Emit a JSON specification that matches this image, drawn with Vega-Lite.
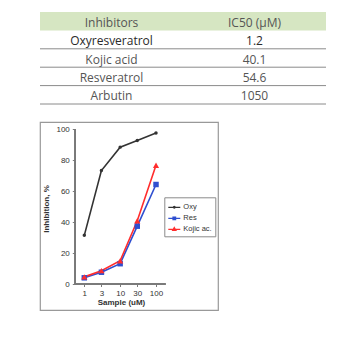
{
  "$schema": "https://vega.github.io/schema/vega-lite/v6.json",
  "padding": {"left": 39, "top": 12, "right": 0, "bottom": 0},
  "background": "white",
  "spacing": 16,
  "config": {"font": "Liberation Sans"},
  "vconcat": [
    {
      "width": 286,
      "height": 92,
      "view": {"stroke": null},
      "data": {"values": [
        {"name": "Inhibitors", "ic50": "IC50 (μM)"},
        {"name": "Oxyresveratrol", "ic50": "1.2"},
        {"name": "Kojic acid", "ic50": "40.1"},
        {"name": "Resveratrol", "ic50": "54.6"},
        {"name": "Arbutin", "ic50": "1050"}
      ]},
      "encoding": {
        "y": {"field": "name", "type": "nominal", "sort": null, "axis": null,
              "scale": {"paddingInner": 0, "paddingOuter": 0}}
      },
      "layer": [
        {
          "transform": [{"filter": "datum.name === 'Inhibitors'"}],
          "mark": {"type": "rect", "color": "#d6e6c2"}
        },
        {
          "transform": [{"filter": "datum.name !== 'Inhibitors'"}],
          "mark": {"type": "rule", "color": "#8a8a8a", "strokeWidth": 1},
          "encoding": {"y": {"field": "name", "type": "nominal", "sort": null, "bandPosition": 1}}
        },
        {
          "mark": {"type": "text", "font": "Open Sans", "fontSize": 12, "dy": 1.5},
          "encoding": {
            "x": {"datum": 0.5, "type": "quantitative", "scale": {"domain": [0, 2]}, "axis": null},
            "text": {"field": "name"},
            "color": {"condition": {"test": "datum.name === 'Oxyresveratrol'", "value": "#2a2a2a"}, "value": "#555555"},
            "fontWeight": {"condition": {"test": "datum.name === 'Oxyresveratrol'", "value": 600}, "value": 400}
          }
        },
        {
          "mark": {"type": "text", "font": "Open Sans", "fontSize": 12, "dy": 1.5},
          "encoding": {
            "x": {"datum": 1.5, "type": "quantitative", "scale": {"domain": [0, 2]}, "axis": null},
            "text": {"field": "ic50"},
            "color": {"condition": {"test": "datum.name === 'Oxyresveratrol'", "value": "#2a2a2a"}, "value": "#555555"},
            "fontWeight": {"condition": {"test": "datum.name === 'Oxyresveratrol'", "value": 600}, "value": 400}
          }
        }
      ]
    },
    {
      "width": 178,
      "height": 188,
      "view": {"stroke": "#999999", "strokeWidth": 1.2},
      "data": {"values": [
        {"series": "Oxy", "dose": 1, "inhibition": 31.4},
        {"series": "Oxy", "dose": 3, "inhibition": 73.2},
        {"series": "Oxy", "dose": 10, "inhibition": 88.3},
        {"series": "Oxy", "dose": 30, "inhibition": 92.6},
        {"series": "Oxy", "dose": 100, "inhibition": 97.4},
        {"series": "Res", "dose": 1, "inhibition": 4.0},
        {"series": "Res", "dose": 3, "inhibition": 7.6},
        {"series": "Res", "dose": 10, "inhibition": 13.1},
        {"series": "Res", "dose": 30, "inhibition": 37.3},
        {"series": "Res", "dose": 100, "inhibition": 64.2},
        {"series": "Kojic ac.", "dose": 1, "inhibition": 4.6},
        {"series": "Kojic ac.", "dose": 3, "inhibition": 8.6},
        {"series": "Kojic ac.", "dose": 10, "inhibition": 15.0},
        {"series": "Kojic ac.", "dose": 30, "inhibition": 40.8},
        {"series": "Kojic ac.", "dose": 100, "inhibition": 76.6}
      ]},
      "layer": [
        {
          "mark": {"type": "line", "strokeWidth": 1.6},
          "encoding": {
            "x": {"field": "dose", "type": "quantitative",
                  "scale": {"type": "log", "domain": [0.0581, 5360], "nice": false},
                  "axis": {"orient": "bottom", "offset": -26.5, "values": [1, 3, 10, 30, 100], "format": "d",
                           "domain": false, "grid": false, "ticks": true, "tickSize": 3, "tickColor": "#7a7a7a",
                           "labelFontSize": 8, "labelColor": "#333333", "labelPadding": 3, "labelFlush": false, "labelOverlap": false,
                           "title": "Sample (uM)", "titleFontSize": 8, "titleFontWeight": "bold", "titleColor": "#333333",
                           "titleX": 81, "titlePadding": 1}},
            "y": {"field": "inhibition", "type": "quantitative",
                  "scale": {"domain": [-16.77, 104.52], "nice": false, "zero": false},
                  "axis": {"orient": "left", "offset": -35.3, "values": [0, 20, 40, 60, 80, 100], "tickCount": 6,
                           "format": "d",
                           "domain": false, "grid": false, "ticks": true, "tickSize": 3, "tickColor": "#7a7a7a",
                           "labelFontSize": 8, "labelColor": "#333333", "labelPadding": 3, "labelFlush": false, "labelOverlap": false,
                           "labelBound": false,
                           "title": "Inhibition, %", "titleFontSize": 8, "titleFontWeight": "bold", "titleColor": "#333333",
                           "titleY": 86.5, "titlePadding": 5}},
            "color": {"field": "series", "type": "nominal",
                      "scale": {"domain": ["Oxy", "Res", "Kojic ac."], "range": ["#333333", "#2f4fd0", "#ff2d2d"]},
                      "legend": {"orient": "none", "legendX": 124.3, "legendY": 185.3, "title": null,
                                 "strokeColor": "#8a8a8a", "fillColor": "white", "padding": 3,
                                 "labelFontSize": 7.5, "labelColor": "#333333", "labelOffset": 2,
                                 "symbolSize": 144, "rowPadding": 0, "symbolStrokeWidth": 1.2,
                                 "encode": {"symbols": {"update": {
                                   "shape": {"signal": "datum.value === 'Oxy' ? 'M-1,0H1M0.15,0A0.15,0.15 0 1,1 -0.15,0A0.15,0.15 0 1,1 0.15,0Z' : datum.value === 'Res' ? 'M-1,0H1M-0.22,-0.22H0.22V0.22H-0.22Z' : 'M-1,0H1M0,-0.3L0.28,0.2H-0.28Z'"},
                                   "fill": {"signal": "datum.value === 'Oxy' ? '#333333' : datum.value === 'Res' ? '#2f4fd0' : '#ff2d2d'"},
                                   "fillOpacity": {"value": 1}
                                 }}}}}
          }
        },
        {
          "mark": {"type": "rule", "color": "#7a7a7a", "strokeWidth": 1},
          "encoding": {
            "x": {"datum": 0.561, "type": "quantitative"},
            "y": {"datum": 0, "type": "quantitative"},
            "y2": {"datum": 100}
          }
        },
        {
          "mark": {"type": "rule", "color": "#7a7a7a", "strokeWidth": 1},
          "encoding": {
            "x": {"datum": 0.561, "type": "quantitative"},
            "x2": {"datum": 181.6},
            "y": {"datum": 0, "type": "quantitative"}
          }
        },
        {
          "transform": [{"filter": "datum.series === 'Oxy'"}],
          "mark": {"type": "point", "filled": true, "opacity": 1, "shape": "circle", "size": 12, "color": "#333333"},
          "encoding": {
            "x": {"field": "dose", "type": "quantitative"},
            "y": {"field": "inhibition", "type": "quantitative"}
          }
        },
        {
          "transform": [{"filter": "datum.series === 'Res'"}],
          "mark": {"type": "point", "filled": true, "opacity": 1, "shape": "square", "size": 30, "color": "#2f4fd0"},
          "encoding": {
            "x": {"field": "dose", "type": "quantitative"},
            "y": {"field": "inhibition", "type": "quantitative"}
          }
        },
        {
          "transform": [{"filter": "datum.series === 'Kojic ac.'"}],
          "mark": {"type": "point", "filled": true, "opacity": 1, "shape": "triangle-up", "size": 38, "color": "#ff2d2d"},
          "encoding": {
            "x": {"field": "dose", "type": "quantitative"},
            "y": {"field": "inhibition", "type": "quantitative"}
          }
        }
      ]
    }
  ]
}
